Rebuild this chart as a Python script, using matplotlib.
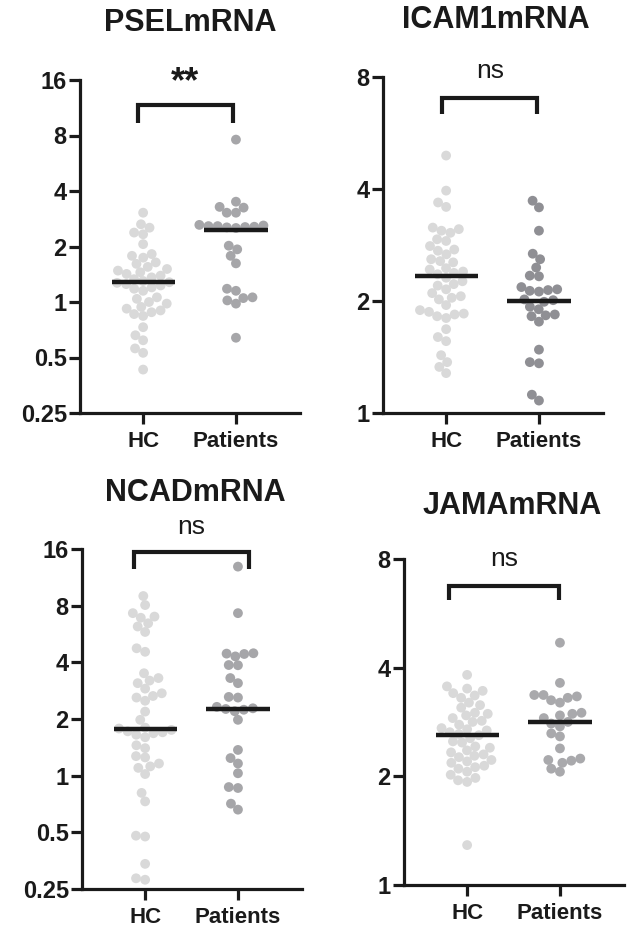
import numpy as np
import matplotlib
matplotlib.use("Agg")
import matplotlib.pyplot as plt
from matplotlib.ticker import FixedLocator, FixedFormatter, NullLocator

plt.rcParams['font.family'] = ['Liberation Sans', 'DejaVu Sans']

groups = ["HC", "Patients"]
titles = ["PSELmRNA", "ICAM1mRNA", "NCADmRNA", "JAMAmRNA"]
signif = ["**", "ns", "ns", "ns"]

psel_hc = [3.05, 2.64, 2.53, 2.38, 2.33, 2.06, 1.82, 1.78, 1.74, 1.64, 1.61, 1.55, 1.51, 1.48,
           1.45, 1.42, 1.39, 1.36, 1.33, 1.30, 1.28, 1.27, 1.25, 1.23, 1.20, 1.18, 1.15, 1.06,
           1.04, 1.0, 0.98, 0.94, 0.92, 0.90, 0.88, 0.86, 0.84, 0.73, 0.66, 0.62, 0.56, 0.53, 0.43]
psel_pt = [7.6, 3.5, 3.28, 3.25, 3.05, 3.05, 2.62, 2.60, 2.58, 2.58, 2.56, 2.55, 2.54, 2.52,
           2.02, 1.93, 1.78, 1.62, 1.18, 1.15, 1.06, 1.05, 1.02, 0.98, 0.64]
icam_hc = [4.92, 3.96, 3.68, 3.58, 3.15, 3.12, 3.09, 3.05, 2.93, 2.90, 2.81, 2.75, 2.73, 2.67,
           2.59, 2.56, 2.54, 2.45, 2.43, 2.40, 2.38, 2.36, 2.31, 2.26, 2.22, 2.20, 2.15, 2.10,
           2.06, 2.04, 2.02, 1.95, 1.89, 1.87, 1.85, 1.84, 1.82, 1.80, 1.68, 1.60, 1.56, 1.43,
           1.37, 1.33, 1.28]
icam_pt = [3.72, 3.57, 3.09, 2.68, 2.59, 2.46, 2.34, 2.33, 2.18, 2.15, 2.14, 2.13, 2.12, 2.02,
           2.01, 1.99, 1.93, 1.90, 1.84, 1.83, 1.82, 1.76, 1.48, 1.37, 1.36, 1.12, 1.08]
ncad_hc = [9.0, 8.06, 7.3, 7.0, 6.9, 6.45, 6.2, 5.8, 4.75, 4.55, 3.5, 3.3, 3.2, 3.1, 2.9, 2.74,
           2.65, 2.6, 2.5, 2.19, 1.98, 1.8, 1.78, 1.75, 1.72, 1.7, 1.68, 1.65, 1.6, 1.45, 1.4,
           1.27, 1.25, 1.16, 1.12, 1.1, 1.02, 0.81, 0.73, 0.48, 0.475, 0.34, 0.285, 0.28]
ncad_pt = [12.9, 7.3, 4.47, 4.45, 4.43, 4.3, 3.87, 3.86, 3.3, 3.1, 2.62, 2.6, 2.32, 2.28, 2.26,
           2.24, 2.2, 1.98, 1.37, 1.24, 1.16, 1.03, 0.87, 0.86, 0.71, 0.66]
jama_hc = [3.82, 3.55, 3.5, 3.45, 3.4, 3.35, 3.3, 3.2, 3.15, 3.1, 3.0, 2.98, 2.95, 2.9, 2.85,
           2.83, 2.78, 2.72, 2.7, 2.68, 2.65, 2.62, 2.6, 2.55, 2.5, 2.48, 2.42, 2.4, 2.36, 2.33,
           2.3, 2.28, 2.26, 2.22, 2.2, 2.18, 2.14, 2.12, 2.1, 2.06, 2.02, 1.98, 1.95, 1.93, 1.29]
jama_pt = [4.69, 3.63, 3.36, 3.36, 3.33, 3.3, 3.25, 3.2, 3.0, 2.98, 2.95, 2.9, 2.83, 2.8, 2.75,
           2.63, 2.58, 2.39, 2.24, 2.22, 2.21, 2.18, 2.1, 2.06]

medians = [[1.29, 2.45], [2.34, 2.0], [1.78, 2.27], [2.61, 2.83]]
data = [[psel_hc, psel_pt], [icam_hc, icam_pt], [ncad_hc, ncad_pt], [jama_hc, jama_pt]]

yticks_list = [[0.25, 0.5, 1, 2, 4, 8, 16], [1, 2, 4, 8],
               [0.25, 0.5, 1, 2, 4, 8, 16], [1, 2, 4, 8]]
ytick_labels = [["0.25", "0.5", "1", "2", "4", "8", "16"], ["1", "2", "4", "8"],
                ["0.25", "0.5", "1", "2", "4", "8", "16"], ["1", "2", "4", "8"]]

W, H = 627, 933
fig = plt.figure(figsize=(W / 100, H / 100), dpi=100)

# axes boxes in pixels: left, right, top, bottom
boxes = [(80, 300, 80, 413), (383, 603, 77, 413), (82, 302, 549, 889), (404, 624, 559, 885)]
title_pos = [(190, 23), (496, 20), (195, 493), (512, 506)]
brackets = [(-0.06, 0.97, 11.7, 9.4, 15.4), (-0.04, 0.98, 7.03, 6.36, 8.3),
            (-0.12, 1.12, 15.5, 12.6, 21.0), (-0.19, 0.99, 6.73, 6.15, 8.0)]
colors_hc = "#d9d9d9"
colors_pt = ["#a6a6a9", "#8f8f94", "#a6a6a9", "#a9a9ac"]

DIAM = 9.8   # px marker diameter
SEP = 9.2    # px min separation in swarm


def swarm_offsets(ax, values, xcenter):
    vals = np.asarray(values, dtype=float)
    pts = ax.transData.transform(np.column_stack([np.full(len(vals), xcenter), vals]))
    ys = pts[:, 1]
    order = np.argsort(ys)
    placed = []
    xs = np.zeros(len(vals))
    for i in order:
        y = ys[i]
        cands = [0.0]
        for (px, py) in placed:
            dy = y - py
            if abs(dy) < SEP:
                dx = np.sqrt(SEP ** 2 - dy ** 2)
                cands += [px + dx, px - dx]
        cands = sorted(cands, key=lambda c: (abs(c), c))
        for c in cands:
            ok = True
            for (px, py) in placed:
                if (c - px) ** 2 + (y - py) ** 2 < SEP ** 2 - 1e-6:
                    ok = False
                    break
            if ok:
                xs[i] = c
                placed.append((c, y))
                break
    x0 = pts[0, 0]
    disp = np.column_stack([x0 + xs, ys])
    return ax.transData.inverted().transform(disp)[:, 0]


for k in range(4):
    l, r, t, b = boxes[k]
    ax = fig.add_axes([l / W, 1 - b / H, (r - l) / W, (b - t) / H])
    ax.set_yscale("log", base=2)
    ax.set_ylim(yticks_list[k][0], yticks_list[k][-1])
    ax.set_xlim(-0.68, 1.69)
    for s in ["top", "right"]:
        ax.spines[s].set_visible(False)
    for s in ["left", "bottom"]:
        ax.spines[s].set_linewidth(2.3)
        ax.spines[s].set_color("#1a1a1a")
    ax.yaxis.set_major_locator(FixedLocator(yticks_list[k]))
    ax.yaxis.set_major_formatter(FixedFormatter(ytick_labels[k]))
    ax.yaxis.set_minor_locator(NullLocator())
    ax.set_xticks([0, 1])
    ax.set_xticklabels(groups)
    ax.tick_params(axis="both", width=2.3, length=8, color="#1a1a1a",
                   labelcolor="#1a1a1a")
    ax.tick_params(axis="y", labelsize=17, pad=1.5)
    ax.tick_params(axis="x", labelsize=16, pad=5)
    for lab in ax.get_xticklabels() + ax.get_yticklabels():
        lab.set_fontweight("bold")

    for g in range(2):
        vals = data[k][g]
        xs = swarm_offsets(ax, vals, g)
        col = colors_hc if g == 0 else colors_pt[k]
        ax.scatter(xs, vals, s=(DIAM * 0.72) ** 2, color=col, edgecolors="none",
                   zorder=2, clip_on=False)
        ax.plot([g - 0.34, g + 0.34], [medians[k][g]] * 2, color="#1a1a1a", lw=3.2,
                solid_capstyle="butt", zorder=3)

    x1, x2, ytop, yleg, ytext = brackets[k]
    ax.plot([x1, x1, x2, x2], [yleg, ytop, ytop, yleg], color="#1a1a1a", lw=3.0,
            solid_capstyle="butt", solid_joinstyle="miter", clip_on=False, zorder=4)
    if signif[k] == "**":
        ax.text((x1 + x2) / 2, ytext, signif[k], ha="center", va="center", fontsize=26,
                fontweight="bold", color="#1a1a1a", clip_on=False)
    else:
        ax.text((x1 + x2) / 2, ytext, signif[k], ha="center", va="center", fontsize=19,
                color="#1a1a1a", clip_on=False)

    tx, ty = title_pos[k]
    fig.text(tx / W, 1 - ty / H, titles[k], ha="center", va="center", fontsize=22,
             fontweight="bold", color="#1a1a1a")

fig.savefig("out.png", dpi=100)
